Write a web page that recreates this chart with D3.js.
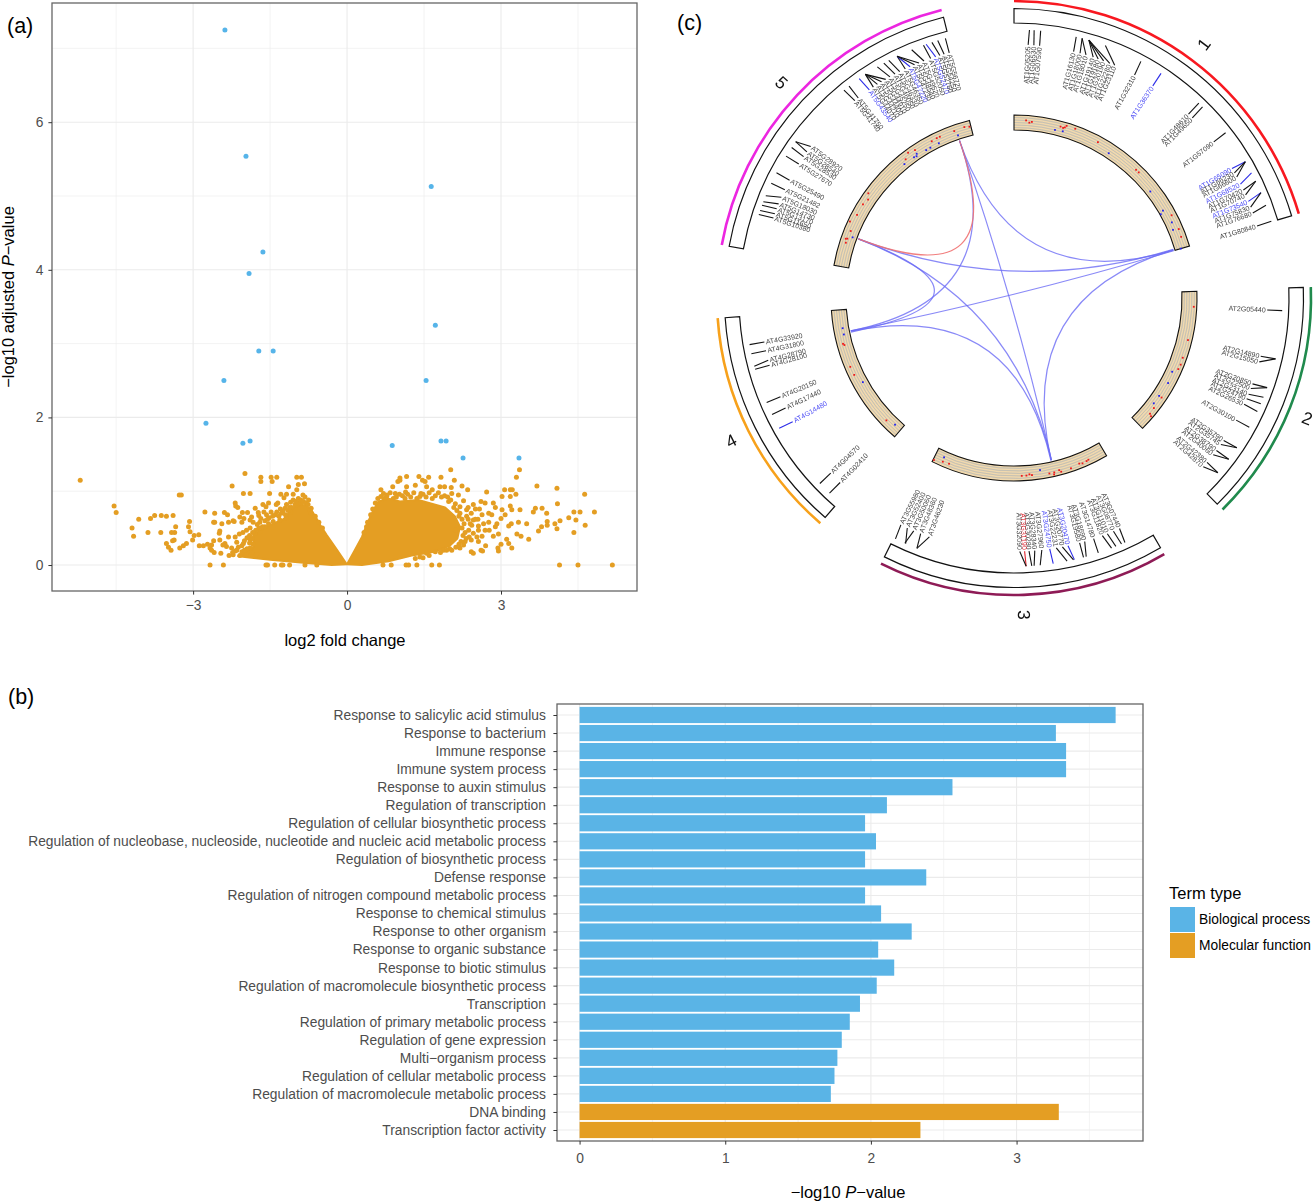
<!DOCTYPE html>
<html><head><meta charset="utf-8">
<script src="https://cdn.jsdelivr.net/npm/d3@7/dist/d3.min.js"></script>
<style>html,body{margin:0;padding:0;background:#fff}svg{display:block}text{font-family:"Liberation Sans",Arial,sans-serif}</style>
</head><body><div id="c"></div>
<script>
// ---------- panel (a) data: log2 fold change, -log10 adjusted P ----------
const significantPoints=[[-2.38,7.25],[-1.97,5.54],[1.64,5.13],[-1.64,4.24],[-1.91,3.95],[1.72,3.25],[-1.72,2.9],[-1.44,2.9],[-2.4,2.5],[1.54,2.5],[-2.75,1.92],[-2.03,1.65],[-1.89,1.68],[.88,1.62],[1.83,1.68],[1.93,1.68],[2.26,1.45],[3.35,1.45]];
const denseCloudLeft=[[-.006,.01],[-.2,.21],[-.4,.41],[-.52,.54],[-.62,.66],[-.72,.77],[-.88,.82],[-1.05,.78],[-1.24,.62],[-1.57,.52],[-1.83,.4],[-1.82,.25],[-2.12,.12],[-1.5,.07],[-.85,.03],[-.3,0]];
const denseCloudRight=[[0,.01],[.15,.2],[.29,.38],[.38,.54],[.51,.74],[.61,.86],[.81,.9],[1.03,.86],[1.39,.88],[1.65,.83],[1.91,.78],[2.1,.66],[2.2,.52],[2.15,.36],[2,.26],[1.7,.18],[1.26,.13],[.81,.05],[.29,0]];
const scatterLeft=[[-5.2,1.15],[-4.54,.8],[-4.5,.71],[-4.06,.62],[-4.19,.5],[-4.16,.39],[-3.88,.44],[-3.83,.63],[-3.75,.67],[-3.62,.67],[-3.52,.66],[-3.39,.67],[-3.23,.95],[-3.63,.44],[-3.52,.29],[-3.48,.24],[-3.43,.2],
[-1.99,1.24],[-1.68,1.19],[-1.68,1.13],[-1.48,1.19],[-1.37,1.19],[-1.46,1.13],[-.98,1.19],[-.89,1.19],[-.95,1.09],[-.98,1.02],[-.83,1.1],[-1.14,1.06],[-2.24,1.07],[-2.02,.97],[-1.89,.97],[-1.51,.97],[-1.29,.96],[-1.18,.96],[-1.23,.91],[-1.05,.96],[-.86,.95],[-2.18,.84],[-2.17,.8],[-2.13,.78],[-1.64,.82],[-1.53,.84],[-1.58,.79],[-1.35,.84],[-1.38,.82],[-1.79,.77],[-1.73,.71],[-2.77,.72],[-2.58,.7],[-2.39,.71],[-2.33,.68],[-2.04,.71],[-1.94,.71],[-2.09,.65],[-2.01,.63],[-1.86,.65],[-1.72,.67],[-1.57,.68],[-1.37,.72],[-1.21,.77],[-1.08,.78],[-1.01,.82],[-.95,.84],[-.9,.84],[-.7,.77],[-3.27,.95],
[-2.6,.58],[-2.58,.58],[-2.44,.56],[-2.31,.58],[-2.22,.6],[-2.2,.59],[-2.05,.58],[-1.89,.61],[-1.83,.58],[-1.7,.58],[-1.89,.5],[-1.96,.47],[-2.03,.44],[-2.1,.42],[-2.49,.43],[-2.48,.46],[-2.31,.38],[-2.18,.38],[-2.6,.33],[-2.48,.34],[-2.38,.29],[-2.15,.31],[-2.02,.29],[-1.89,.34],[-2.72,.28],[-2.8,.26],[-2.88,.26],[-2.64,.27],[-2.42,.27],[-2.35,.25],[-2.25,.23],[-2.15,.2],[-2.05,.18],[-1.89,.23],[-1.83,.28],[-2.67,.23],[-2.59,.17],[-2.64,.2],[-2.46,.16],[-2.23,.17],[-2.09,.13],[-1.96,.14],[-1.86,.17],[-1.77,.14],[-2.98,.4],[-2.89,.41],[-3.01,.34],[-3.06,.45],[-3.09,.52],[-3.07,.59],[-3.34,.52],[-3.36,.44],[-3.42,.44],[-3.37,.34],[-3.4,.33],[-3.13,.29],[-3.19,.26],[-3.26,.23],
[-2.67,0],[-2.41,0],[-1.58,0],[-1.55,0],[-1.41,0],[-1.28,0],[-1.25,0],[-1.12,0],[-.82,0],[-.59,0],
[-1.79,.43],[-1.7,.45],[-1.6,.52],[-1.53,.56],[-1.44,.59],[-1.31,.61],[-1.18,.63],[-1.1,.72],
[-1.6,.6],[-1.52,.64],[-1.45,.66],[-1.4,.68],[-1.33,.66],[-1.28,.7],[-1.25,.73],[-1.2,.68],[-1.15,.74],[-1.12,.78],[-1.18,.82],[-1.1,.85],[-1.05,.88],[-1,.86],[-.95,.9],[-.9,.88],[-.85,.86],[-.8,.84],[-.76,.82],[-.72,.74],[-1.65,.52],[-1.72,.5],[-1.78,.47],[-1.84,.44],[-1.9,.4],[-1.95,.37],[-2,.33],[-1.85,.36],[-2.05,.26],[-2.12,.24],[-2.18,.19],[-2.22,.14],[-2.3,.13],[-1.95,.22],[-1.9,.3],[-2,.2],[-1.75,.55],[-1.68,.63],[-1.62,.72],[-1.48,.72],[-1.55,.62],[-1.3,.76],[-.75,.88],[-.82,.92],[-.7,.7],[-.62,.66],[-.55,.58],[-.48,.5]];
const scatterRight=[[2.02,1.29],[3.36,1.29],[3.3,1.19],[3.7,1.07],[1.03,1.18],[.99,1.13],[1.16,1.2],[1.03,1.15],[1.4,1.2],[1.52,1.13],[1.59,1.19],[1.47,1.15],[1.83,1.19],[2.09,1.15],[2.24,1.07],[2.35,1.02],[2.72,.99],[3.07,1.02],[3.18,1.02],[3.22,1.02],[3.02,.93],[3.18,.93],[3.29,.96],[.66,1.02],[.71,.97],[.77,.93],[.89,1.06],[.94,.97],[1.16,1.06],[1.14,.99],[1.33,1.08],[1.44,.97],[1.55,1.06],[1.66,1.02],[1.81,1.06],[1.9,1.06],[2.03,1.05],[2.04,.97],[2.17,.95],
[2.27,.87],[2.46,.82],[2.61,.86],[2.69,.84],[2.85,.84],[2.89,.78],[3.02,.75],[3.18,.8],[3.21,.75],[3.37,.75],[3.67,.77],[3.8,.77],[3.63,.72],[2.11,.83],[2.2,.79],[1.98,.86],[2.33,.75],[2.2,.7],[2.33,.66],[2.46,.61],[2.63,.68],[2.76,.7],[2.82,.68],[2.66,.56],[2.76,.58],[2.56,.53],[2.43,.54],[2.92,.56],[2.89,.52],[2.77,.47],[2.69,.47],[2.56,.47],[2.46,.43],[2.53,.38],[2.37,.47],[2.38,.38],[2.42,.34],[2.3,.32],
[3,.63],[3.08,.68],[3.2,.56],[3.15,.53],[3.34,.58],[3.5,.56],[3.73,.46],[2.95,.42],[2.85,.39],[2.63,.39],[2.56,.32],[2.7,.26],[2.94,.23],[3,.28],[3.11,.35],[3.15,.29],[3.21,.23],[3.31,.42],[3.39,.39],[3.54,.35],[2.42,.18],[2.46,.16],[2.61,.2],[2.64,.19],[2.95,.19],[2.11,.47],[2.27,.27],[2.04,.2],[2.2,.23],[1.88,.2],[1.72,.18],[1.55,.16],[1.42,.11],[1.33,.09],
[.7,0],[.86,0],[1.15,0],[1.2,0],[1.36,0],[1.65,0],[1.8,0],
[4.09,1.04],[4.63,.96],[4.1,.83],[3.89,.7],[4.42,.72],[4.54,.72],[4.82,.72],[4.32,.64],[4.46,.61],[4.15,.6],[3.9,.59],[4.05,.56],[3.9,.54],[3.79,.52],[4.09,.49],[4.42,.44],[4.64,.54],[4.14,0],[4.5,0],[5.17,0],
[.4,.58],[.46,.68],[.5,.76],[.55,.84],[.6,.9],[.66,.93],[.72,.9],[.78,.95],[.84,.98],[.9,.9],[.96,.92],[1.02,.96],[1.08,.94],[1.13,.9],[1.18,.96],[1.24,.92],[1.3,.98],[1.36,.9],[1.42,.93],[1.48,.96],[1.54,.92],[1.6,.98],[1.66,.9],[1.72,.94],[1.78,.98],[1.84,.92],[1.9,.94],[1.96,.92],[2.02,.88],[2.08,.78],[2.14,.74],[2.18,.66],[2.24,.62],[2.28,.56],[2.24,.5],[2.3,.44],[2.26,.4],[2.32,.36],[2.22,.32],[2.18,.28],[2.12,.24],[2,.22],[1.94,.2],[1.82,.17],[1.6,.13],[1.48,.1],[2.36,.62],[2.4,.56],[2.42,.7],[2.5,.62],[2.55,.62],[2.58,.76],[2.5,.76],[2.36,.78],[.33,.44],[.38,.52]];

// ---------- panel (b) data ----------
const termNames=["Response to salicylic acid stimulus","Response to bacterium","Immune response","Immune system process","Response to auxin stimulus","Regulation of transcription","Regulation of cellular biosynthetic process","Regulation of nucleobase, nucleoside, nucleotide and nucleic acid metabolic process","Regulation of biosynthetic process","Defense response","Regulation of nitrogen compound metabolic process","Response to chemical stimulus","Response to other organism","Response to organic substance","Response to biotic stimulus","Regulation of macromolecule biosynthetic process","Transcription","Regulation of primary metabolic process","Regulation of gene expression","Multi−organism process","Regulation of cellular metabolic process","Regulation of macromolecule metabolic process","DNA binding","Transcription factor activity"];
const termValues=[3.68,3.27,3.34,3.34,2.56,2.11,1.96,2.035,1.96,2.38,1.96,2.07,2.28,2.05,2.16,2.04,1.925,1.855,1.8,1.77,1.75,1.725,3.29,2.34];
const termTypes=termNames.map((d,i)=>i<22?"Biological process":"Molecular function");
const legendTypes=["Biological process","Molecular function"];

// ---------- panel (c) data: sectors in degrees clockwise from top ----------
const sectorNames=["1","2","3","4","5"];
const sectorStart=[0,87.9,149.6,220.7,280.3];
const sectorEnd=[73.5,135.4,206.6,266.1,345.9];
const sectorColors=["#f8171f","#1f8a4c","#8e1a55","#f7a11a","#ec25e0"];
const sectorLabelAngle=[36.8,112.3,178.2,243.2,312.8];
const sectorLabelRotate=[-53,21,88,-27,43];
const geneNames=[
"AT1G05205","AT1G06530","AT1G07590","AT1G16130","AT1G18000","AT1G18010","AT1G19140","AT1G19180","AT1G20190","AT1G22280","AT1G23110","AT1G32310","AT1G36370","AT1G48610","AT1G49650","AT1G57090","AT1G65090","AT1G66230","AT1G66600","AT1G68520","AT1G70420","AT1G70740","AT1G73540","AT1G75830","AT1G76680","AT1G80840",
"AT2G05440","AT2G14890","AT2G15050","AT2G20850","AT2G22500","AT2G23140","AT2G24790","AT2G26530","AT2G30100","AT2G35790","AT2G35745","AT2G38790","AT2G40060","AT2G42380","AT2G42870",
"AT3G07440","AT3G08770","AT3G11010","AT3G11820","AT3G14780","AT3G18690","AT3G19580","AT3G20470","AT3G20770","AT3G22231","AT3G24750","AT3G27960","AT3G28340","AT3G30280","AT3G31190","AT3G32090","AT3G46230","AT3G48360","AT3G50060","AT3G52400","AT3G55980",
"AT4G33920","AT4G31800","AT4G28790","AT4G28100","AT4G20150","AT4G17440","AT4G14480","AT4G04570","AT4G02410",
"AT5G10380","AT5G11650","AT5G13170","AT5G14730","AT5G18030","AT5G21482","AT5G25490","AT5G27670","AT5G28530","AT5G28540","AT5G28920",
"AT5G41740","AT5G41750","AT5G43540","AT5G44070","AT5G44210","AT5G44400","AT5G44910","AT5G45250","AT5G46050","AT5G46330","AT5G46350","AT5G47220","AT5G47230","AT5G48540","AT5G49520","AT5G52050","AT5G52470","AT5G52760","AT5G54250","AT5G56720"];
const geneAngles=[3.3,4.3,5.7,13.4,14.7,14.7,16.2,16.2,16.2,16.2,19.9,28.2,33.2,43.5,44.6,52,59.5,59.5,59.5,62.2,64.2,64.2,66.9,66.9,69.8,73.4,
92.7,103.1,103.1,109.5,109.5,111.7,113.2,115,118.8,123.9,123.9,126.9,126.9,130.6,130.6,
155.6,156.4,157.7,158.7,161.7,164.4,165,167,167.2,168.6,171.6,174.4,175.7,176.2,177.4,177.4,201.2,201.2,204,203.8,206.2,
260,258,255.3,254.6,247.1,244.3,241,226.3,223.4,
288.1,289,290.2,291,292.4,295.3,297.8,301.9,304.1,305.6,305.6,
320.7,322.1,324.8,326.4,326.4,326.4,326.4,329.4,331,332.2,334.2,334.2,334.2,334.2,337.6,340.3,340.9,342.2,343.5,345.2];
const labelAngles=[3.2,4.5,5.8,13.6,15.1,16.5,18.2,19.4,20.7,22.2,23.4,28.4,33.2,43.5,44.7,52,59.3,60.4,61.5,63.3,64.8,66,67.6,69,70.4,73.5,
92.7,103.3,104.6,109.8,110.9,112.3,113.4,114.8,118.8,124.2,125.3,127,128.2,130.4,131.7,
155.4,156.9,158.4,159.6,161.7,163.8,165,167.7,169,170.4,171.9,173.7,175.3,176.6,177.6,178.7,199.5,201.6,203.3,204.9,206.5,
260,258,255.8,254.6,247.1,244.3,240.8,226.3,223.3,
288.4,289.4,290.6,291.8,293.4,295.3,297.7,301.9,303.9,305.2,306.7,
321.1,322.1,325.2,326.3,327.4,328.5,329.6,330.7,332,333.2,334.6,335.8,336.9,338,339.2,340.8,342,343,344,345.2];
const blueGenes=["AT1G36370","AT1G65090","AT1G68520","AT1G73540","AT3G20470","AT3G24750","AT4G14480","AT5G43540","AT5G47220","AT5G52470"];
const redGenes=["AT3G31190"];
const redDots=[[3.9,178],[5,176],[5.8,177],[15.2,177.6],[16.1,177],[16.6,178],[17,180],[19.9,180],[28.3,177],[43.6,177],[44.8,177],[62.3,178],[67.3,178.6],[69.9,178],[92.8,180],[103.6,179],[109.5,179],[111.8,179.5],[113.4,179],[124,178],[128.2,178],[130.4,178.6],[130.8,181],[206.3,180.7],[203.5,178.5],[201.4,178],[177.5,178],[176,178],[175,177],[174.2,178],[168.6,179],[167,179],[167.2,181],[165.3,178],[164.8,180],[161.5,179.6],[158.5,178],[157.5,179],[156,178.5],[155.3,178],[255,177],[254.5,176],[247.2,177.6],[244.3,177.3],[226.2,176.8],[289.4,178.4],[289.6,176.9],[288.2,177],[292.3,176.5],[295,181],[297.9,177.6],[301.8,177.7],[304,176],[305.7,179.4],[322,176],[323.9,179.8],[326.2,178],[332.3,177],[334.2,177.5],[335.3,177.5],[340.3,177.3],[343.8,178],[345.4,177]];
const blueDots=[[13.7,173],[16.3,173.7],[33.2,173],[52,173],[59.6,172.7],[60.3,169],[64.4,175],[66.8,173],[73.5,174],[115,174.5],[118.9,176],[124,175],[127,175],[203.7,174],[171.4,174],[260,174],[257.9,174],[240.9,173],[223.2,173.8],[290.6,172.4],[320.7,173],[324.6,172.6],[326,174],[325.5,172],[329.3,172],[330.9,172],[334.1,172],[341,172]];
const blueLinks=[[340.9,73.3],[340.9,167],[340.9,258.6],[290.8,258.2],[290.8,73],[258.6,73.5],[290.8,167],[258.5,167.2],[73.2,167.1]];
const redLinks=[[340.9,290.8]];

// ---------- drawing ----------
const W=1316,H=1202,grid="#ebebeb",ink="#4d4d4d",orange="#E49E23",blue="#5AB4E6";
const svg=d3.select("#c").append("svg").attr("width",W).attr("height",H);
svg.append("rect").attr("width",W).attr("height",H).attr("fill","#fff");
function label(x,y,t,size,o={}){return svg.append("text").attr("x",x).attr("y",y).attr("font-size",size).attr("fill",o.fill||"#000").attr("text-anchor",o.anchor||"start").text(t);}
label(7,33,"(a)",21.5);label(8,704,"(b)",21.5);label(677,30,"(c)",21.5);

// Panel a
const ax={l:52,r:637,t:3,b:591};
const xV=d3.scaleLinear().domain([-5.75,5.65]).range([ax.l,ax.r]);
const yV=d3.scaleLinear().domain([-.352,7.615]).range([ax.b,ax.t]);
const ga=svg.append("g");
[-4.5,-1.5,1.5,4.5].forEach(v=>ga.append("line").attr("x1",xV(v)).attr("x2",xV(v)).attr("y1",ax.t).attr("y2",ax.b).attr("stroke",grid).attr("stroke-width",.6));
[-3,0,3].forEach(v=>ga.append("line").attr("x1",xV(v)).attr("x2",xV(v)).attr("y1",ax.t).attr("y2",ax.b).attr("stroke",grid).attr("stroke-width",1.1));
[1,3,5,7].forEach(v=>ga.append("line").attr("y1",yV(v)).attr("y2",yV(v)).attr("x1",ax.l).attr("x2",ax.r).attr("stroke",grid).attr("stroke-width",.6));
[0,2,4,6].forEach(v=>ga.append("line").attr("y1",yV(v)).attr("y2",yV(v)).attr("x1",ax.l).attr("x2",ax.r).attr("stroke",grid).attr("stroke-width",1.1));
const outline=d3.line().x(d=>xV(d[0])).y(d=>yV(d[1])).curve(d3.curveLinearClosed);
[denseCloudLeft,denseCloudRight].forEach(c=>ga.append("path").attr("d",outline(c)).attr("fill",orange).attr("stroke",orange).attr("stroke-width",2).attr("stroke-linejoin","round"));
ga.selectAll("circle.o").data(scatterLeft.concat(scatterRight)).join("circle").attr("cx",d=>xV(d[0])).attr("cy",d=>yV(d[1])).attr("r",2.5).attr("fill",orange);
ga.selectAll("circle.b").data(significantPoints).join("circle").attr("cx",d=>xV(d[0])).attr("cy",d=>yV(d[1])).attr("r",2.5).attr("fill","#56B4E9");
ga.append("rect").attr("x",ax.l).attr("y",ax.t).attr("width",ax.r-ax.l).attr("height",ax.b-ax.t).attr("fill","none").attr("stroke","#666").attr("stroke-width",1.3);
function styleAxis(g,size){g.select(".domain").remove();g.selectAll(".tick line").attr("stroke","#333").attr("stroke-width",1);g.selectAll(".tick text").attr("fill",ink).attr("font-size",size).attr("font-family",'"Liberation Sans",Arial,sans-serif');}
svg.append("g").attr("transform",`translate(0,${ax.b})`).call(d3.axisBottom(xV).tickValues([-3,0,3]).tickSize(3.6).tickPadding(6).tickFormat(d=>d<0?"−"+(-d):d)).call(styleAxis,13.8);
svg.append("g").attr("transform",`translate(${ax.l},0)`).call(d3.axisLeft(yV).tickValues([0,2,4,6]).tickSize(3.6).tickPadding(5).tickFormat(d3.format("d"))).call(styleAxis,13.8);
label(345,646,"log2 fold change",16.5,{anchor:"middle"});
const yt=svg.append("text").attr("transform","translate(14,297) rotate(-90)").attr("text-anchor","middle").attr("font-size",16.5);
yt.append("tspan").text("−log10 adjusted ");yt.append("tspan").attr("font-style","italic").text("P");yt.append("tspan").text("−value");

// Panel b
const bx={l:557,r:1143,t:704,b:1141};
const xB=d3.scaleLinear().domain([-.155,3.868]).range([bx.l,bx.r]);
const yB=d3.scalePoint().domain(termNames).range([715,1130]);
const gb=svg.append("g");
[.5,1.5,2.5,3.5].forEach(v=>gb.append("line").attr("x1",xB(v)).attr("x2",xB(v)).attr("y1",bx.t).attr("y2",bx.b).attr("stroke",grid).attr("stroke-width",.6));
[0,1,2,3].forEach(v=>gb.append("line").attr("x1",xB(v)).attr("x2",xB(v)).attr("y1",bx.t).attr("y2",bx.b).attr("stroke",grid).attr("stroke-width",1.1));
termNames.forEach(v=>gb.append("line").attr("y1",yB(v)).attr("y2",yB(v)).attr("x1",bx.l).attr("x2",bx.r).attr("stroke",grid).attr("stroke-width",1.1));
const typeColor=d3.scaleOrdinal().domain(legendTypes).range([blue,orange]);
gb.selectAll("rect.bar").data(termNames).join("rect").attr("x",xB(0)).attr("y",d=>yB(d)-8.1).attr("height",16.2).attr("width",(d,i)=>xB(termValues[i])-xB(0)).attr("fill",(d,i)=>typeColor(termTypes[i]));
gb.append("rect").attr("x",bx.l).attr("y",bx.t).attr("width",bx.r-bx.l).attr("height",bx.b-bx.t).attr("fill","none").attr("stroke","#666").attr("stroke-width",1.3);
svg.append("g").attr("transform",`translate(0,${bx.b})`).call(d3.axisBottom(xB).tickValues([0,1,2,3]).tickSize(3.6).tickPadding(9).tickFormat(d3.format("d"))).call(styleAxis,13.8);
svg.append("g").attr("transform",`translate(${bx.l},0)`).call(d3.axisLeft(yB).tickSize(3.6).tickPadding(7.5)).call(styleAxis,13.8);
const xt=svg.append("text").attr("x",848).attr("y",1198).attr("text-anchor","middle").attr("font-size",16.5);
xt.append("tspan").text("−log10 ");xt.append("tspan").attr("font-style","italic").text("P");xt.append("tspan").text("−value");
label(1169,899,"Term type",16.5);
legendTypes.forEach((t,i)=>{svg.append("rect").attr("x",1170).attr("y",907+26*i).attr("width",25).attr("height",25).attr("fill",typeColor(t));label(1199,924+26*i,t,13.8);});

// Panel c
const cx=1014,cy=298;
const rad=d3.scaleLinear().domain([0,360]).range([0,2*Math.PI]);
const gc=svg.append("g").attr("transform",`translate(${cx},${cy})`).attr("opacity",.995);
const arc=d3.arc();
const arcPath=(a0,a1,r0,r1)=>arc({startAngle:rad(a0),endAngle:rad(a1),innerRadius:r0,outerRadius:r1});
sectorNames.forEach((s,i)=>{
 const a0=sectorStart[i],a1=sectorEnd[i];
 gc.append("path").attr("d",arcPath(a0,a1,297,297)).attr("fill","none").attr("stroke",sectorColors[i]).attr("stroke-width",2.6);
 gc.append("path").attr("d",arcPath(a0,a1,275,289.5)).attr("fill","#fff").attr("stroke","#111").attr("stroke-width",1.2);
 gc.append("path").attr("d",arcPath(a0,a1,168,183)).attr("fill","#F1D9AE");
 [170.5,173,175.5,178,180.5].forEach(r=>gc.append("path").attr("d",arcPath(a0,a1,r,r)).attr("fill","none").attr("stroke","#BDBCB4").attr("stroke-width",.6));
 gc.append("path").attr("d",arcPath(a0,a1,168,183)).attr("fill","none").attr("stroke","#111").attr("stroke-width",1.1);
 const a=sectorLabelAngle[i],r=317;
 gc.append("text").attr("transform",`translate(${r*Math.sin(rad(a))},${-r*Math.cos(rad(a))}) rotate(${sectorLabelRotate[i]})`).attr("text-anchor","middle").attr("dy",".35em").attr("font-size",17.5).attr("fill","#111").text(s);
});
const radial=d3.lineRadial().angle(d=>rad(d[0])).radius(d=>d[1]);
geneNames.forEach((g,i)=>{
 const col=blueGenes.includes(g)?"#2a2ae8":redGenes.includes(g)?"#e0202a":"#111";
 const tcol=blueGenes.includes(g)?"#4a4af5":redGenes.includes(g)?"#e0202a":"#444";
 gc.append("path").attr("d",radial([[geneAngles[i],268.5],[labelAngles[i],253.5]])).attr("fill","none").attr("stroke",col).attr("stroke-width",1.1);
 const a=labelAngles[i];
 const tr=a<180?`rotate(${a-90}) translate(252,0)`:`rotate(${a-90}) translate(252,0) rotate(180)`;
 gc.append("text").attr("transform",tr).attr("text-anchor",a<180?"end":"start").attr("dy",".35em").attr("font-size",7).attr("fill",tcol).text(g);
});
function linkPath(a,b,r){const p=d3.path();const A=d3.pointRadial(rad(a),r),B=d3.pointRadial(rad(b),r);p.moveTo(A[0],A[1]);p.quadraticCurveTo(0,0,B[0],B[1]);return p.toString();}
blueLinks.forEach(l=>gc.append("path").attr("d",linkPath(l[0],l[1],166.5)).attr("fill","none").attr("stroke","#6a6af5").attr("stroke-opacity",.8).attr("stroke-width",1.2));
redLinks.forEach(l=>gc.append("path").attr("d",linkPath(l[0],l[1],166.5)).attr("fill","none").attr("stroke","#f07070").attr("stroke-opacity",.9).attr("stroke-width",1.2));
const dot=(d,c)=>{const P=d3.pointRadial(rad(d[0]),d[1]);gc.append("rect").attr("x",P[0]-.9).attr("y",P[1]-.9).attr("width",1.8).attr("height",1.8).attr("fill",c);};
redDots.forEach(d=>dot(d,"#f01818"));
blueDots.forEach(d=>dot(d,"#2020f0"));
</script></body></html>
